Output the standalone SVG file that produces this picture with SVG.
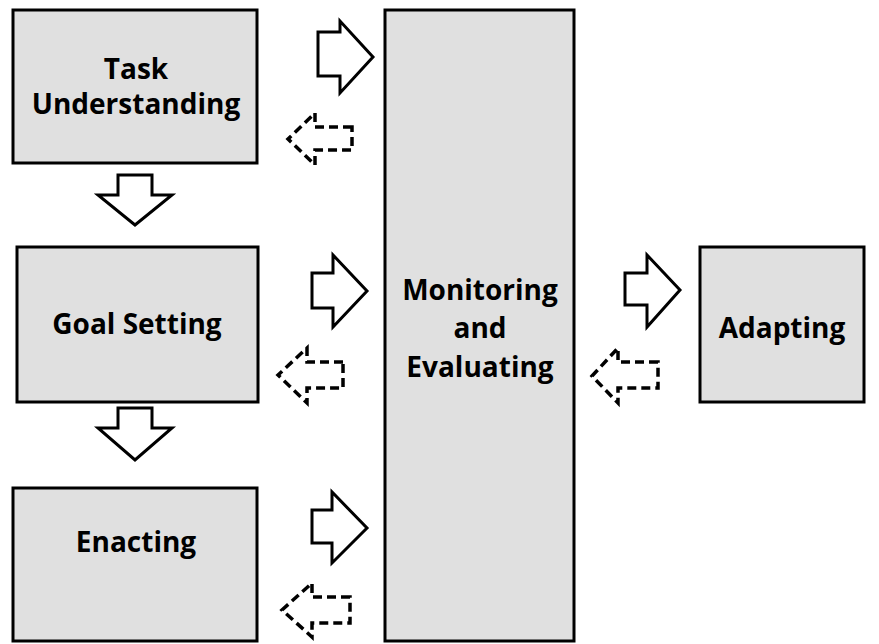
<svg xmlns="http://www.w3.org/2000/svg" width="879" height="644" viewBox="0 0 879 644">
  <style>
    .box { fill: #e0e0e0; stroke: #000; stroke-width: 3; }
    .label { font-family: "Open Sans", "Liberation Sans", sans-serif; font-weight: 700; font-size: 28px; fill: #000; text-anchor: middle; }
    .solid { fill: #fff; stroke: #000; stroke-width: 3; stroke-linejoin: miter; }
    .dashed { fill: #fff; stroke: #000; stroke-width: 3.5; stroke-dasharray: 9 5; }
  </style>
  <rect width="879" height="644" fill="#fff"/>

  <g id="task-understanding">
    <rect class="box" x="13" y="10" width="244" height="153"/>
    <text class="label" x="136" y="79">Task</text>
    <text class="label" x="136" y="114">Understanding</text>
  </g>

  <g id="goal-setting">
    <rect class="box" x="17" y="247" width="241" height="155"/>
    <text class="label" x="137" y="334">Goal Setting</text>
  </g>

  <g id="enacting">
    <rect class="box" x="13" y="488" width="244" height="153"/>
    <text class="label" x="136" y="552">Enacting</text>
  </g>

  <g id="monitoring-evaluating">
    <rect class="box" x="385" y="10" width="189" height="631"/>
    <text class="label" x="480" y="300">Monitoring</text>
    <text class="label" x="480" y="338">and</text>
    <text class="label" x="480" y="377">Evaluating</text>
  </g>

  <g id="adapting">
    <rect class="box" x="700" y="247" width="164" height="155"/>
    <text class="label" x="782" y="338">Adapting</text>
  </g>

  <g id="connectors">
    <!-- forward arrows to Monitoring and Evaluating -->
    <path class="solid" d="M318 32 H340 V21 L373 57 L340 93 V76 H318 Z"/>
    <path class="solid" d="M312 273 H333 V255 L367 291 L333 327 V308 H312 Z"/>
    <path class="solid" d="M312 510 H332 V492 L367 528 L332 563 V543 H312 Z"/>
    <!-- feedback arrows back to the phases -->
    <path class="dashed" d="M352 127 H315 V113 L288 139 L315 165 V150 H352 Z"/>
    <path class="dashed" d="M343 362 H307 V348 L278 375 L307 403 V388 H343 Z"/>
    <path class="dashed" d="M350 597 H312 V583 L282 610 L312 637 V623 H350 Z"/>
    <!-- phase sequence -->
    <path class="solid" d="M118 175 H152 V195 H172 L135 225 L98 195 H118 Z"/>
    <path class="solid" d="M118 408 H152 V428 H172 L135 460 L98 428 H118 Z"/>
    <!-- Monitoring to Adapting and back -->
    <path class="solid" d="M625 273 H647 V255 L680 290 L647 327 V305 H625 Z"/>
    <path class="dashed" d="M658 362 H618 V348 L592 376 L618 403 V388 H658 Z"/>
  </g>
</svg>
